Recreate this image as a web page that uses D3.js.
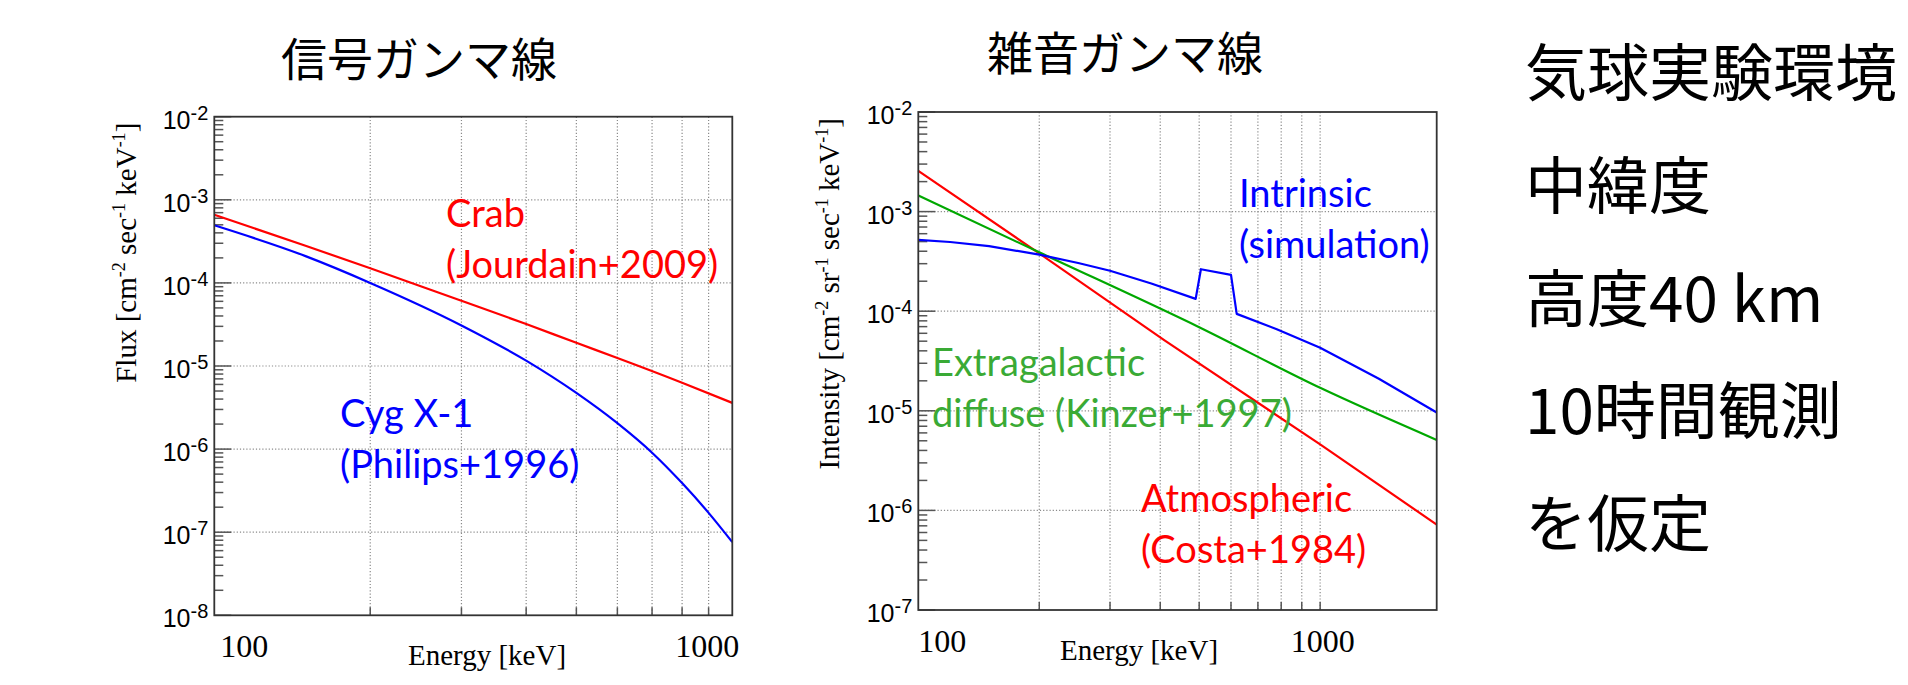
<!DOCTYPE html>
<html><head><meta charset="utf-8">
<script src="https://cdn.jsdelivr.net/npm/d3@7"></script>
<style>body{margin:0;background:#fff;} svg{display:block;background:#fff}</style>
</head><body><svg id="c" width="1908" height="685"></svg>
<script>
// ---------------- data ----------------
// Left panel: signal gamma rays (Flux)
const crabEnergy = [100, 150, 200, 300, 400, 500, 600, 800, 1000];
const crabFlux   = [6.6e-4, 2.8e-4, 1.5e-4, 6.1e-5, 3.2e-5, 1.9e-5, 1.25e-5, 6.3e-6, 3.6e-6];
const cygEnergy  = [100, 150, 200, 300, 400, 500, 600, 700, 800, 900, 1000];
const cygFlux    = [4.93e-4, 2.1e-4, 1.0e-4, 3.08e-5, 1.16e-5, 4.74e-6, 2.05e-6, 9.05e-7, 3.9e-7, 1.71e-7, 7.6e-8];
// Right panel: background gamma rays (Intensity)
const intrEnergy = [100, 120, 150, 200, 250, 300, 380, 490, 505, 600, 620, 780, 1000, 1400, 1950];
const intrValue  = [5.2e-4, 4.95e-4, 4.5e-4, 3.7e-4, 3.05e-4, 2.55e-4, 1.9e-4, 1.33e-4, 2.64e-4, 2.32e-4, 9.4e-5, 6.6e-5, 4.3e-5, 2.1e-5, 9.6e-6];
const atmEnergy  = [100, 200, 410, 1000, 1950];
const atmValue   = [2.56e-3, 3.8e-4, 5.1e-5, 4.6e-6, 7.2e-7];
const egEnergy   = [100, 200, 500, 1000, 1950];
const egValue    = [1.45e-3, 3.9e-4, 6.9e-5, 1.7e-5, 5.1e-6];
// axes
const leftXDomain  = [100, 1000];
const rightXDomain = [100, 1950];
const leftYExponents  = [-8, -7, -6, -5, -4, -3, -2];
const rightYExponents = [-7, -6, -5, -4, -3, -2];
const xGridLeft  = [200, 300, 400, 500, 600, 700, 800, 900];
const xGridRight = [200, 300, 400, 500, 600, 700, 800, 900, 1000];
const xTickLabels = ["100", "1000"];
const xTickLabelValues = [100, 1000];
const titles = ["信号ガンマ線", "雑音ガンマ線"];
const sideText = ["気球実験環境", "中緯度", "高度40 km", "10時間観測", "を仮定"];

// ---------------- drawing ----------------
const svg = d3.select("#c");
const SERIF = "'Liberation Serif','Times New Roman',serif";
const SANS = "'Liberation Sans',Arial,sans-serif";
const ANNO = "Lato,'Open Sans',sans-serif";
const CJK = "'Noto Sans CJK JP','Noto Sans CJK SC',sans-serif";

function supText(sel, parts, baseSize, supSize, supDy) {
  let prevSup = false;
  parts.forEach(([t, sup]) => {
    const ts = sel.append("tspan").text(t);
    if (sup && !prevSup) ts.attr("dy", supDy).attr("font-size", supSize);
    else if (sup) ts.attr("font-size", supSize);
    else if (!sup && prevSup) ts.attr("dy", -supDy).attr("font-size", baseSize);
    prevSup = sup;
  });
}

function panel(cfg) {
  const x = d3.scaleLog().domain(cfg.xDomain).range([cfg.x0, cfg.x1]);
  const y = d3.scaleLog().domain([Math.pow(10, cfg.yExp[0]), Math.pow(10, cfg.yExp[cfg.yExp.length - 1])]).range([cfg.y1, cfg.y0]);
  const g = svg.append("g");

  // grid
  g.selectAll(".gx").data(cfg.xGrid).enter().append("line")
    .attr("x1", d => x(d)).attr("x2", d => x(d)).attr("y1", cfg.y0).attr("y2", cfg.y1)
    .attr("stroke", "#8a8a8a").attr("stroke-width", 1.2).attr("stroke-dasharray", "1.2,2");
  const innerDec = cfg.yExp.slice(1, -1);
  g.selectAll(".gy").data(innerDec).enter().append("line")
    .attr("x1", cfg.x0).attr("x2", cfg.x1).attr("y1", d => y(Math.pow(10, d))).attr("y2", d => y(Math.pow(10, d)))
    .attr("stroke", "#8a8a8a").attr("stroke-width", 1.2).attr("stroke-dasharray", "1.2,2");

  // y ticks
  const minor = [];
  cfg.yExp.slice(0, -1).forEach(e => { for (let m = 2; m <= 9; m++) minor.push(m * Math.pow(10, e)); });
  g.selectAll(".ym").data(minor).enter().append("line")
    .attr("x1", cfg.x0).attr("x2", cfg.x0 + 9).attr("y1", d => y(d)).attr("y2", d => y(d))
    .attr("stroke", "#555").attr("stroke-width", 1.5);
  g.selectAll(".yM").data(cfg.yExp).enter().append("line")
    .attr("x1", cfg.x0).attr("x2", cfg.x0 + 17).attr("y1", d => y(Math.pow(10, d))).attr("y2", d => y(Math.pow(10, d)))
    .attr("stroke", "#555").attr("stroke-width", 1.5);
  // x ticks
  g.selectAll(".xm").data(cfg.xGrid).enter().append("line")
    .attr("x1", d => x(d)).attr("x2", d => x(d)).attr("y1", cfg.y1).attr("y2", cfg.y1 - 8)
    .attr("stroke", "#555").attr("stroke-width", 1.5);

  // curves
  cfg.series.forEach(s => {
    const pts = s.e.map((e, i) => [e, s.v[i]]);
    const line = d3.line().x(d => x(d[0])).y(d => y(d[1])).curve(s.curve || d3.curveLinear);
    g.append("path").attr("d", line(pts)).attr("fill", "none")
      .attr("stroke", s.color).attr("stroke-width", 2.2).attr("stroke-linejoin", "round");
  });

  // frame
  g.append("rect").attr("x", cfg.x0).attr("y", cfg.y0)
    .attr("width", cfg.x1 - cfg.x0).attr("height", cfg.y1 - cfg.y0)
    .attr("fill", "none").attr("stroke", "#333").attr("stroke-width", 1.8);

  // y tick labels
  cfg.yExp.forEach(e => {
    const t = g.append("text").attr("x", cfg.x0 - 6).attr("y", y(Math.pow(10, e)) + 12)
      .attr("text-anchor", "end").attr("font-family", SANS).attr("font-size", 25).attr("fill", "#000");
    supText(t, [["10", false], [String(e), true]], 25, 20, -9);
  });
  // x tick labels
  xTickLabelValues.forEach((v, i) => {
    g.append("text").attr("x", x(v) + cfg.xLabelDx[i]).attr("y", cfg.y1 + 42)
      .attr("text-anchor", "middle").attr("font-family", SERIF).attr("font-size", 32)
      .attr("fill", "#000").text(xTickLabels[i]);
  });
  // x title
  g.append("text").attr("x", cfg.xTitleX).attr("y", cfg.y1 + 50)
    .attr("text-anchor", "middle").attr("font-family", SERIF).attr("font-size", 29)
    .attr("fill", "#000").text("Energy [keV]");
  // y title
  const yt = g.append("text").attr("transform", `translate(${cfg.yTitleX},${cfg.y0 + 6}) rotate(-90)`)
    .attr("text-anchor", "end").attr("font-family", SERIF).attr("font-size", 29).attr("fill", "#000");
  supText(yt, cfg.yTitleParts, 29, 18, -11);
  // panel title
  g.append("text").attr("x", cfg.titleX).attr("y", cfg.titleY).attr("text-anchor", "middle")
    .attr("font-family", CJK).attr("font-size", 46).attr("fill", "#000").text(cfg.title);

  // annotations
  cfg.notes.forEach(n => {
    n.lines.forEach((l, i) => {
      g.append("text").attr("x", n.x).attr("y", n.y + i * 51)
        .attr("font-family", ANNO).attr("font-size", 38).attr("fill", n.color).text(l);
    });
  });
  return {x, y};
}

panel({
  x0: 214.3, x1: 732.3, y0: 116.7, y1: 615.3,
  xDomain: leftXDomain, yExp: leftYExponents, xGrid: xGridLeft,
  xLabelDx: [30, -25], xTitleX: 487, yTitleX: 136,
  yTitleParts: [["Flux [cm", false], ["-2", true], [" sec", false], ["-1", true], [" keV", false], ["-1", true], ["]", false]],
  title: titles[0], titleX: 419, titleY: 76,
  series: [
    {e: crabEnergy, v: crabFlux, color: "#ff0000", curve: d3.curveMonotoneX},
    {e: cygEnergy, v: cygFlux, color: "#0000ff", curve: d3.curveMonotoneX}
  ],
  notes: [
    {x: 446, y: 227, color: "#ff0000", lines: ["Crab", "(Jourdain+2009)"]},
    {x: 340, y: 427, color: "#0000ff", lines: ["Cyg X-1", "(Philips+1996)"]}
  ]
});

panel({
  x0: 918.3, x1: 1436.7, y0: 112, y1: 610,
  xDomain: rightXDomain, yExp: rightYExponents, xGrid: xGridRight,
  xLabelDx: [24, 2.5], xTitleX: 1139, yTitleX: 839,
  yTitleParts: [["Intensity [cm", false], ["-2", true], [" sr", false], ["-1", true], [" sec", false], ["-1", true], [" keV", false], ["-1", true], ["]", false]],
  title: titles[1], titleX: 1125, titleY: 70,
  series: [
    {e: atmEnergy, v: atmValue, color: "#ff0000"},
    {e: egEnergy, v: egValue, color: "#00a800", curve: d3.curveMonotoneX},
    {e: intrEnergy, v: intrValue, color: "#0000ff"}
  ],
  notes: [
    {x: 1239, y: 207, color: "#0000ff", lines: ["Intrinsic", "(simulation)"]},
    {x: 932, y: 376, color: "#3aaa35", lines: ["Extragalactic", "diffuse (Kinzer+1997)"]},
    {x: 1141, y: 512, color: "#ff0000", lines: ["Atmospheric", "(Costa+1984)"]}
  ]
});

// side text block
svg.append("g").selectAll("text").data(sideText).enter().append("text")
  .attr("x", 1525).attr("y", (d, i) => 96 + i * 112.8)
  .attr("font-family", CJK).attr("font-size", 62).attr("fill", "#000").text(d => d);
</script>
</body></html>
